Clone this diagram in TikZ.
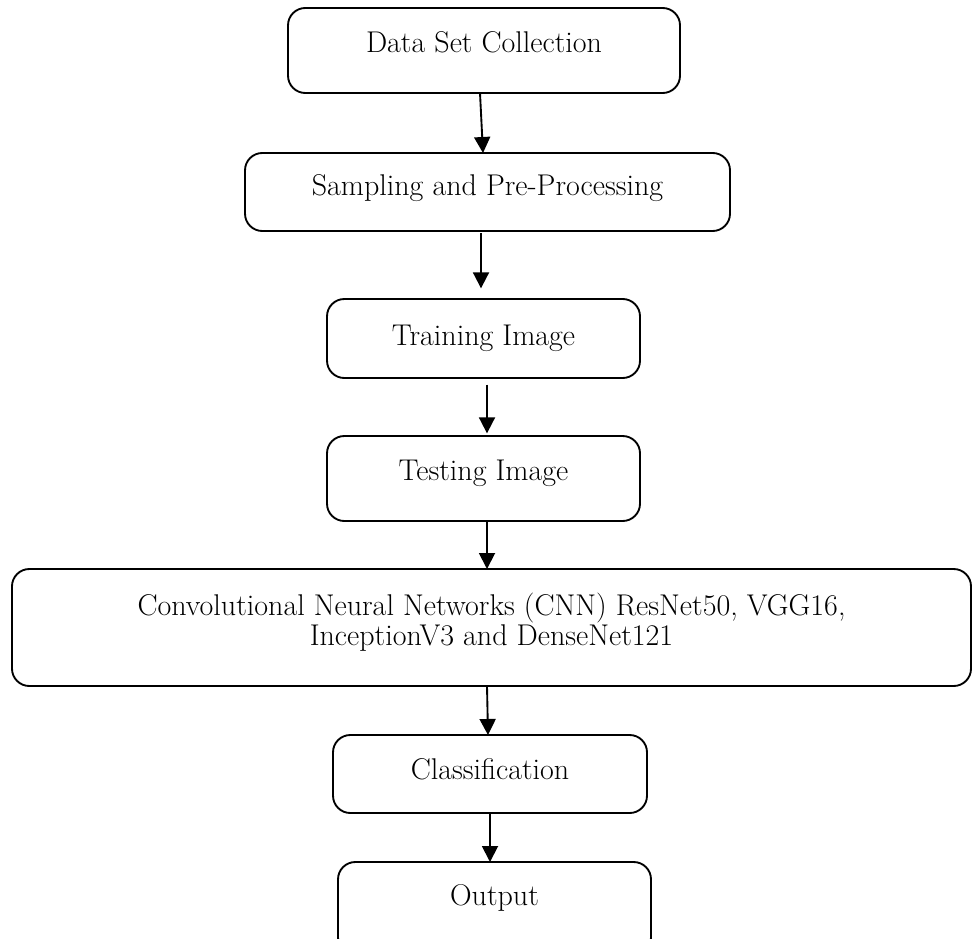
\documentclass[tikz,border=0pt]{standalone}
\usetikzlibrary{arrows.meta}
\begin{document}
\begin{tikzpicture}[x=0.75pt,y=-0.75pt,
  box/.style={draw, line width=1.4pt, rounded corners=13pt, inner sep=0pt, outer sep=0pt,
              anchor=north west, font=\fontsize{22.5}{22.5}\selectfont},
  arr/.style={-{Triangle[length=12pt,width=12pt]}, line width=1.4pt}]
\useasboundingbox (0,0) rectangle (973,938);
\clip (0,0) rectangle (973,938);
\node[box, minimum width=294pt,    text height=33.75pt, text depth=30pt]    (b1) at (288,8)   {Data Set Collection};
\node[box, minimum width=363.75pt, text height=31.5pt,  text depth=27pt]    (b2) at (245,153) {Sampling and Pre-Processing};
\node[box, minimum width=234.75pt, text height=34.5pt,  text depth=24.75pt] (b3) at (327,299) {Training Image};
\node[box, minimum width=234.75pt, text height=33pt,    text depth=30.75pt] (b4) at (327,436) {Testing Image};
\node[box, minimum width=719.25pt, text height=34.5pt,  text depth=53.25pt] (b5) at (12,569)
  {\begin{tabular}[t]{@{}c@{}}Convolutional Neural Networks (CNN) ResNet50, VGG16,\\InceptionV3 and DenseNet121\end{tabular}};
\node[box, minimum width=235.5pt,  text height=33pt,    text depth=25.5pt]  (b6) at (333,735) {Classification};
\node[box, minimum width=234.75pt, text height=32.25pt, text depth=37.5pt]  (b7) at (338,862) {Output};
\coordinate (xa) at (480,0);
\coordinate (xb) at (483,0);
\coordinate (xc) at (481,0);
\coordinate (xd) at (487,0);
\coordinate (xe) at (488,0);
\coordinate (xf) at (490,0);
\draw[arr] (b1.south -| xa) -- (b2.north -| xb);
\draw[arr, shorten <=1.5pt, shorten >=8pt] (b2.south -| xc) -- (b3.north -| xc);
\draw[arr, shorten <=5pt, shorten >=2pt] (b3.south -| xd) -- (b4.north -| xd);
\draw[arr] (b4.south -| xd) -- (b5.north -| xd);
\draw[arr] (b5.south -| xd) -- (b6.north -| xe);
\draw[arr] (b6.south -| xf) -- (b7.north -| xf);
\end{tikzpicture}
\end{document}
